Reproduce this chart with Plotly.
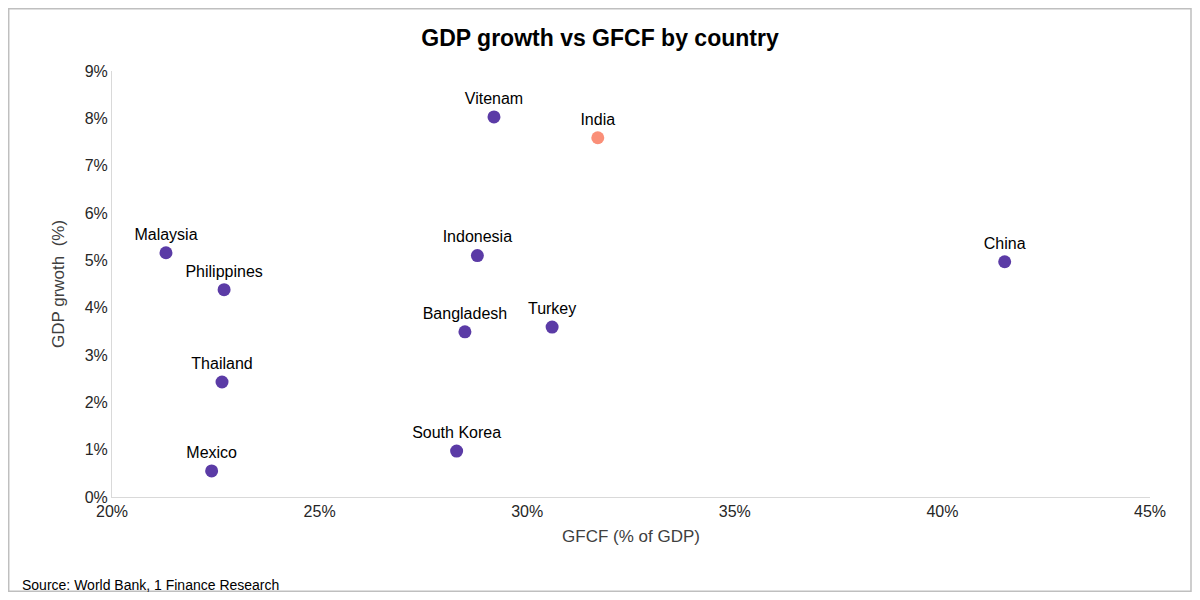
import plotly.graph_objects as go

countries = ["Vitenam", "India", "Malaysia", "Philippines", "Indonesia", "China",
             "Bangladesh", "Turkey", "Thailand", "Mexico", "South Korea"]
gfcf = [29.2, 31.7, 21.3, 22.7, 28.8, 41.5, 28.5, 30.6, 22.65, 22.4, 28.3]
gdp_growth = [8.03, 7.59, 5.16, 4.38, 5.10, 4.97, 3.49, 3.59, 2.43, 0.55, 0.97]
colors = ["#FA8F78" if c == "India" else "#5B3BA6" for c in countries]

fig = go.Figure(go.Scatter(
    x=gfcf, y=gdp_growth, mode="markers+text", text=countries,
    textposition="top center", textfont=dict(size=16, color="#000000"),
    marker=dict(size=13, color=colors), cliponaxis=False,
))

# page has an 8px body margin, so the figure is a bit smaller than the window
fig.update_layout(
    width=1184, height=584,
    title=dict(text="<b>GDP growth vs GFCF by country</b>", x=0.5, y=0.962,
               font=dict(size=23, color="#000000")),
    font=dict(family="Arial, Liberation Sans", size=16, color="#262626"),
    plot_bgcolor="white", paper_bgcolor="white",
    margin=dict(l=104, r=42, t=63, b=95),
    showlegend=False,
)
fig.update_xaxes(range=[20, 45], dtick=5, ticksuffix="%", showgrid=False,
                 showline=True, linecolor="#d9d9d9", ticks="", zeroline=False,
                 title=dict(text="GFCF (% of GDP)", standoff=10,
                            font=dict(size=17, color="#404040")))
fig.update_yaxes(range=[0, 9], dtick=1, ticksuffix="%", showgrid=False,
                 showline=True, linecolor="#d9d9d9", ticks="", zeroline=False,
                 title=dict(text="GDP grwoth  (%)", font=dict(size=17, color="#404040")))

fig.add_annotation(text="Source: World Bank, 1 Finance Research", xref="paper", yref="paper",
                   x=-0.0886, y=-0.2066, xanchor="left", yanchor="middle", showarrow=False,
                   font=dict(size=14, color="#000000"))
fig.add_shape(type="rect", xref="paper", yref="paper", x0=-0.0995, x1=1.0395, y0=-0.221, y1=1.146,
              line=dict(color="#bfbfbf", width=1.5))

fig.write_html("out.html")
